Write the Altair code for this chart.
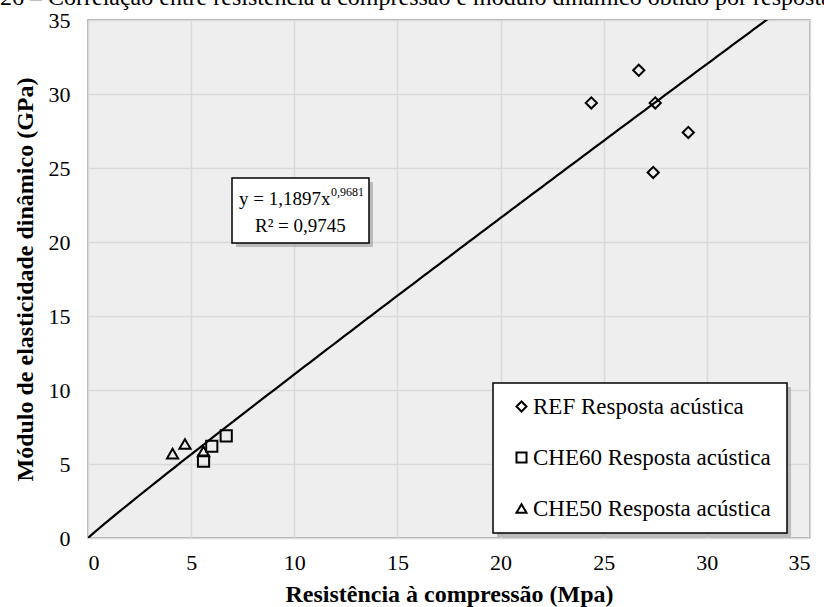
import altair as alt
import pandas as pd

# ---- data ----
ref_x = [24.4, 26.7, 27.5, 29.1, 27.4]
ref_y = [29.4, 31.6, 29.4, 27.4, 24.7]
che60_x = [5.6, 6.0, 6.7]
che60_y = [5.2, 6.2, 6.9]
che50_x = [4.1, 4.7, 5.6]
che50_y = [5.7, 6.35, 5.85]

series_names = ["REF Resposta acústica", "CHE60 Resposta acústica", "CHE50 Resposta acústica"]
series_shapes = ["diamond", "square", "triangle-up"]

x_ticks = [0, 5, 10, 15, 20, 25, 30, 35]
y_ticks = [0, 5, 10, 15, 20, 25, 30, 35]

# power trendline as printed on the chart: y = a * x^b
trend_a = 1.1897
trend_b = 0.9681

eq_main = "y = 1,1897x"
eq_sup = "0,9681"
eq_r2 = "R² = 0,9745"
caption = "26 – Correlação entre resistência à compressão e módulo dinâmico obtido por resposta acústica"

rows = []
for name, xs, ys in [(series_names[0], ref_x, ref_y),
                     (series_names[1], che60_x, che60_y),
                     (series_names[2], che50_x, che50_y)]:
    for a, b in zip(xs, ys):
        rows.append({"x": a, "y": b, "serie": name})
df = pd.DataFrame(rows)
one = pd.DataFrame({"k": [0]})

FONT = "Liberation Serif"
W, H = 722, 518

xscale = alt.Scale(domain=[0, 35], nice=False, zero=False)
yscale = alt.Scale(domain=[0, 35], nice=False, zero=False)

points = alt.Chart(df).mark_point(filled=False, strokeWidth=2, size=125, color="black", opacity=1).encode(
    x=alt.X("x:Q", scale=xscale,
            axis=alt.Axis(values=x_ticks, title="Resistência à compressão (Mpa)", grid=True,
                          ticks=False, domain=False, labelPadding=14, titlePadding=9)),
    y=alt.Y("y:Q", scale=yscale,
            axis=alt.Axis(values=y_ticks, title="Módulo de elasticidade dinâmico (GPa)", grid=True,
                          ticks=False, domain=False, labelPadding=18, titlePadding=11)),
    shape=alt.Shape("serie:N", sort=series_names,
                    scale=alt.Scale(domain=series_names, range=series_shapes),
                    legend=alt.Legend(title=None)),
)

trend = alt.Chart(alt.sequence(0, 35.01, 0.25, as_="x")).transform_calculate(
    y=f"{trend_a} * pow(datum.x, {trend_b})"
).mark_line(color="black", strokeWidth=2.2, clip=True).encode(
    x=alt.X("x:Q", scale=xscale), y=alt.Y("y:Q", scale=yscale))

ann = alt.Chart(one)

# equation box
eq_shadow = ann.mark_rect(color="#9a9a9a", opacity=0.6).encode(
    x=alt.value(148), x2=alt.value(285), y=alt.value(162), y2=alt.value(227))
eq_box = ann.mark_rect(fill="white", stroke="black", strokeWidth=1.5).encode(
    x=alt.value(144), x2=alt.value(281), y=alt.value(158), y2=alt.value(223))
eq_t1 = ann.mark_text(font=FONT, fontSize=19, align="left", baseline="alphabetic", color="black").encode(
    x=alt.value(151), y=alt.value(185), text=alt.value(eq_main))
eq_t1s = ann.mark_text(font=FONT, fontSize=12, align="left", baseline="alphabetic", color="black").encode(
    x=alt.value(243), y=alt.value(176), text=alt.value(eq_sup))
eq_t2 = ann.mark_text(font=FONT, fontSize=19, align="left", baseline="alphabetic", color="black").encode(
    x=alt.value(167), y=alt.value(212), text=alt.value(eq_r2))

# legend frame and shadow
leg_shadow = ann.mark_rect(color="#9a9a9a", opacity=0.6).encode(
    x=alt.value(409), x2=alt.value(703), y=alt.value(367), y2=alt.value(517))
leg_box = ann.mark_rect(fill="white", stroke="black", strokeWidth=1.5).encode(
    x=alt.value(405), x2=alt.value(699), y=alt.value(363), y2=alt.value(513))

cap = ann.mark_text(font=FONT, fontSize=24, align="left", baseline="alphabetic", color="black").encode(
    x=alt.value(-88), y=alt.value(-15), text=alt.value(caption))

chart = alt.layer(eq_shadow, leg_shadow, leg_box, trend, points, eq_box, eq_t1, eq_t1s, eq_t2, cap).properties(
    width=W, height=H,
    background="white",
    padding={"left": 88, "top": 20, "right": 14, "bottom": 69},
    autosize=alt.AutoSizeParams(type="none"),
).configure_view(
    fill="#eeeeee", stroke="#9b9b9b", strokeWidth=1.5
).configure_axis(
    labelFont=FONT, labelFontSize=22, labelColor="black",
    titleFont=FONT, titleFontSize=24, titleFontWeight="bold", titleColor="black",
    gridColor="#dadada", gridWidth=1.5,
).configure_legend(
    orient="none", legendX=405, legendY=363,
    padding=12, rowPadding=27, labelLimit=0,
    labelFont=FONT, labelFontSize=23, labelColor="black", labelOffset=0,
    symbolType="square", symbolSize=100, symbolStrokeWidth=2, symbolStrokeColor="black",
    symbolFillColor="transparent", symbolOffset=5,
)

chart.save("out.html", embed_options={"renderer": "svg", "actions": False})
